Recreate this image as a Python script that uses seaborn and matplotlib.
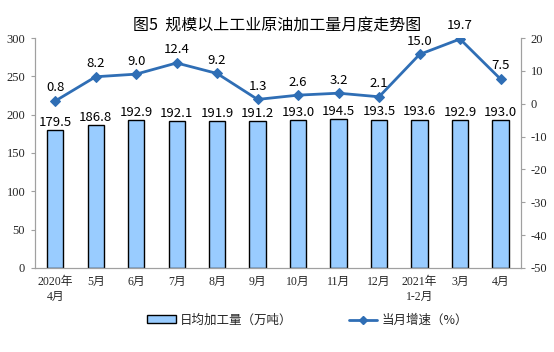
import numpy as np
import pandas as pd
import seaborn as sns
import matplotlib.pyplot as plt
from matplotlib.patches import Patch
from matplotlib.lines import Line2D

# 数据
meses = ['2020年\n4月', '5月', '6月', '7月', '8月', '9月', '10月', '11月', '12月',
         '2021年\n1-2月', '3月', '4月']
producao = [179.5, 186.8, 192.9, 192.1, 191.9, 191.2, 193.0, 194.5, 193.5, 193.6, 192.9, 193.0]
crescimento = [0.8, 8.2, 9.0, 12.4, 9.2, 1.3, 2.6, 3.2, 2.1, 15.0, 19.7, 7.5]

df = pd.DataFrame({'mes': meses, 'producao': producao, 'crescimento': crescimento,
                   'pos': np.arange(len(meses))})

sns.set_style('white')
plt.rcParams['font.family'] = ['Noto Sans CJK SC', 'DejaVu Sans']
plt.rcParams['axes.unicode_minus'] = False
tick_font = ['Liberation Serif', 'Noto Sans CJK SC']

cor_barra = '#99CCFF'
cor_linha = '#2F6EB5'

fig = plt.figure(figsize=(5.54, 3.52), dpi=100)
ax = fig.add_axes([0.063, 0.239, 0.877, 0.653])

sns.barplot(data=df, x='mes', y='producao', color=cor_barra, edgecolor='black',
            linewidth=1.0, width=0.4, saturation=1, ax=ax)
ax.set_ylim(0, 300)
ax.set_yticks(range(0, 301, 50))
ax.set_xlim(-0.5, len(meses) - 0.5)
ax.set_xlabel('')
ax.set_ylabel('')

for i, v in enumerate(producao):
    ax.text(i, v + 1.5, f'{v:.1f}', ha='center', va='bottom', fontsize=9.5, color='black')

ax2 = ax.twinx()
sns.lineplot(data=df, x='pos', y='crescimento', color=cor_linha, linewidth=2,
             marker='D', markersize=5, markeredgecolor=cor_linha, ax=ax2)
ax2.set_ylim(-50, 20)
ax2.set_yticks(range(-50, 21, 10))
ax2.set_xlim(-0.5, len(meses) - 0.5)
ax2.set_ylabel('')
ax2.set_xlabel('')

for i, v in enumerate(crescimento):
    ax2.text(i, v + 2.0, f'{v:.1f}', ha='center', va='bottom', fontsize=9.5, color='black')

# Eixos
for a in (ax, ax2):
    a.spines['top'].set_visible(False)
    for lado in ['left', 'right', 'bottom']:
        a.spines[lado].set_color('#A0A0A0')
        a.spines[lado].set_linewidth(0.8)

ax.set_xticks(np.arange(len(meses)))
ax.set_xticklabels(meses, fontsize=8.5, family=tick_font, linespacing=1.3)
ax.tick_params(axis='x', length=0, pad=6)
ax.set_xticks(np.arange(len(meses) + 1) - 0.5, minor=True)
ax.tick_params(axis='x', which='minor', length=3, color='#A0A0A0', direction='in')
ax.tick_params(axis='y', length=3, color='#A0A0A0', labelsize=9, pad=4)
ax2.tick_params(axis='y', length=3, color='#A0A0A0', labelsize=9, pad=4)
for lbl in ax.get_yticklabels() + ax2.get_yticklabels():
    lbl.set_family(tick_font)

fig.text(0.5, 0.925, '图5  规模以上工业原油加工量月度走势图', ha='center', va='center',
         fontsize=11.5, color='black')

# Legenda
handles = [Patch(facecolor=cor_barra, edgecolor='black', linewidth=1.0),
           Line2D([0], [0], color=cor_linha, linewidth=2, marker='D', markersize=4)]
labels = ['日均加工量（万吨）', '当月增速（%）']
fig.legend(handles, labels, loc='center', bbox_to_anchor=(0.555, 0.09), ncol=2,
           frameon=False, fontsize=9, handlelength=2.3, handleheight=0.6,
           columnspacing=4.5, handletextpad=0.3)

plt.savefig('out.png', dpi=100)
